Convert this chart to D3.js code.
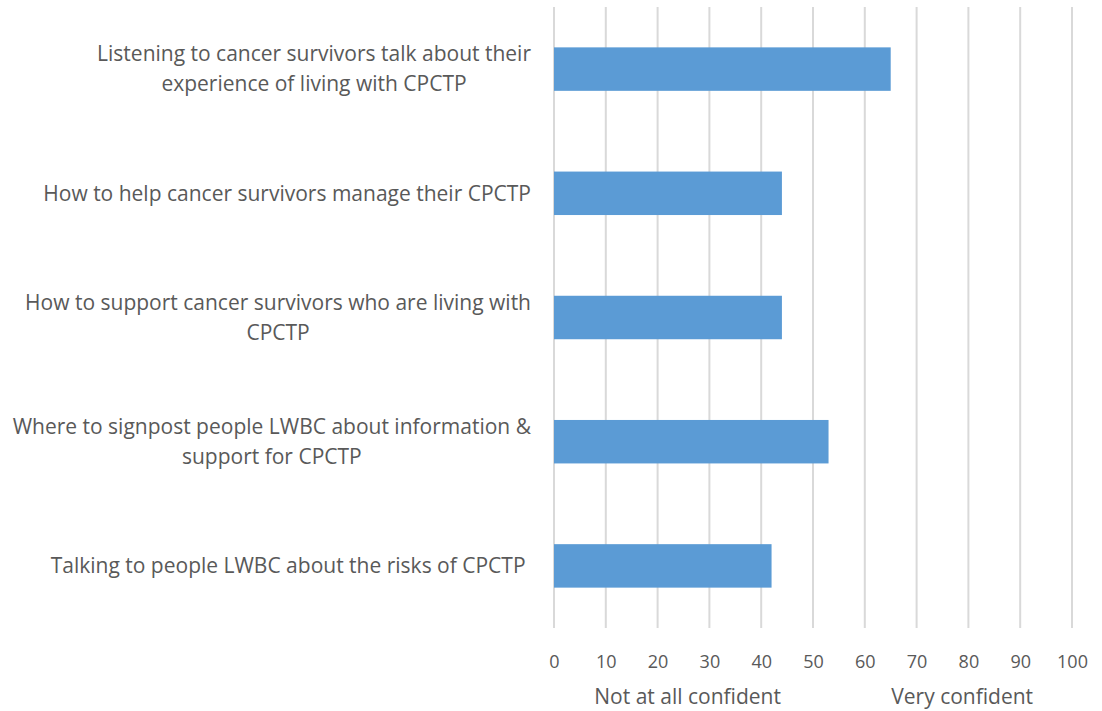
<!DOCTYPE html>
<html>
<head>
<meta charset="utf-8">
<script src="https://cdn.jsdelivr.net/npm/d3@7"></script>
<style>
  html, body { margin: 0; padding: 0; background: #ffffff; }
  svg { display: block; }
  text { font-family: "Open Sans", "Noto Sans", sans-serif; fill: #595959; white-space: pre; }
</style>
</head>
<body>
<svg id="chart" width="1102" height="711"></svg>
<script>
// Topics (each entry lists the wrapped lines of its label)
const categories = [
  ["Listening to cancer survivors talk about their", "experience of living with CPCTP"],
  ["How to help cancer survivors manage their CPCTP"],
  ["How to support cancer survivors who are living with", "CPCTP"],
  ["Where to signpost people LWBC about information &", "support for CPCTP"],
  ["Talking to people LWBC about the risks of CPCTP "]
];
const values = [65, 44, 44, 53, 42];
const tickValues = [0, 10, 20, 30, 40, 50, 60, 70, 80, 90, 100];
const axisTitles = [
  { text: "Not at all confident", at: 25.8 },
  { text: "Very confident", at: 78.8 }
];

const svg = d3.select("#chart");
const margin = { top: 7, left: 554, right: 30, bottom: 83 };
const W = 1102, H = 711;
const labelSize = "21px";
const tickSize = "18px";

const x = d3.scaleLinear().domain([0, 100]).range([margin.left, 1072]);
const y = d3.scaleBand()
  .domain(d3.range(categories.length))
  .range([margin.top, H - margin.bottom])
  .paddingInner(0.65)
  .paddingOuter(0.325);

// vertical gridlines
svg.append("g")
  .selectAll("line")
  .data(tickValues)
  .join("line")
  .attr("x1", d => x(d)).attr("x2", d => x(d))
  .attr("y1", margin.top).attr("y2", H - margin.bottom)
  .attr("stroke", "#d9d9d9")
  .attr("stroke-width", 2);

// bars
svg.append("g")
  .selectAll("rect")
  .data(values)
  .join("rect")
  .attr("x", x(0))
  .attr("y", (d, i) => y(i))
  .attr("width", d => x(d) - x(0))
  .attr("height", y.bandwidth())
  .attr("fill", "#5b9bd5");

// x tick labels
const xAxis = d3.axisBottom(x).tickValues(tickValues).tickSize(0).tickPadding(0);
const ax = svg.append("g")
  .attr("transform", `translate(0, ${H - margin.bottom + 24})`)
  .call(xAxis);
ax.select(".domain").remove();
ax.selectAll("text")
  .attr("dy", "0.35em")
  .attr("y", 10)
  .style("font-size", tickSize)
  .style("font-family", "'Open Sans', 'Noto Sans', sans-serif")
  .attr("fill", "#595959");

// axis titles
svg.append("g")
  .selectAll("text")
  .data(axisTitles)
  .join("text")
  .attr("x", d => x(d.at))
  .attr("y", 697)
  .attr("dy", "0.35em")
  .attr("text-anchor", "middle")
  .style("font-size", labelSize)
  .text(d => d.text);

// category labels: block right-aligned, lines centred within the block
const labelRight = 531;
const lineGap = 30;
categories.forEach((lines, i) => {
  const g = svg.append("g");
  const cy = y(i) + y.bandwidth() / 2;
  const texts = lines.map((ln, k) => g.append("text")
    .attr("y", cy + (k - (lines.length - 1) / 2) * lineGap)
    .attr("dy", "0.35em")
    .attr("text-anchor", "middle")
    .style("font-size", labelSize)
    .text(ln));
  const widths = texts.map(t => t.node().getComputedTextLength());
  const maxW = d3.max(widths);
  texts.forEach(t => t.attr("x", labelRight - maxW / 2));
});
</script>
</body>
</html>
